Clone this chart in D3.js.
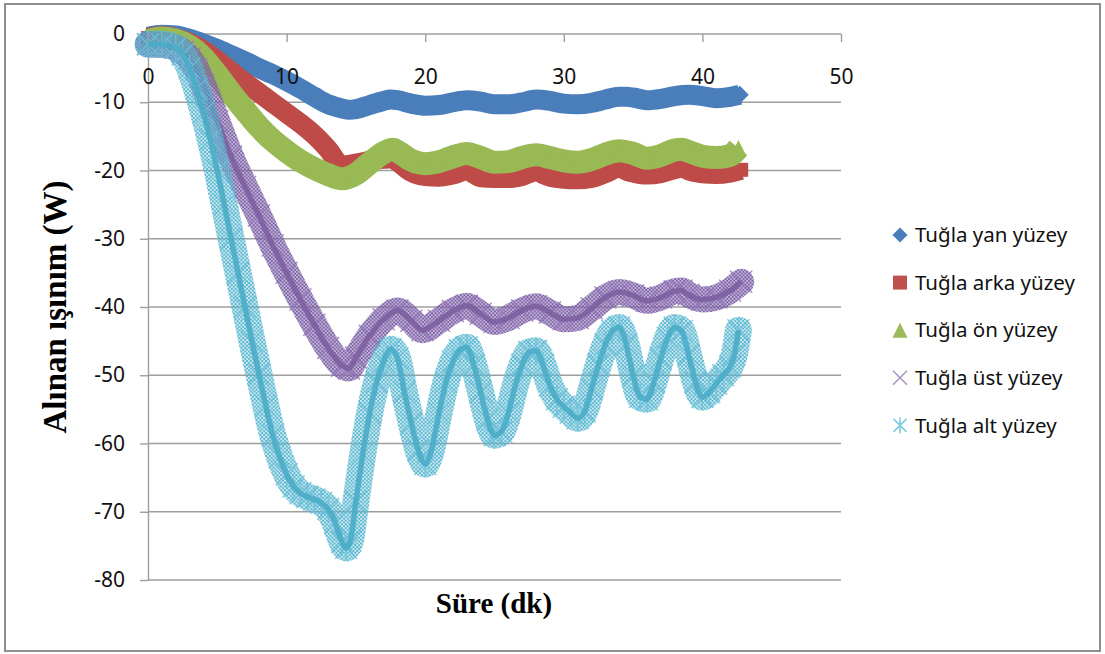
<!DOCTYPE html>
<html>
<head>
<meta charset="utf-8">
<script src="https://cdn.jsdelivr.net/npm/d3@7"></script>
<style>
  html, body { margin: 0; padding: 0; background: #fff; }
  svg { display: block; }
</style>
</head>
<body>
<svg id="chart" width="1105" height="654"></svg>
<script>
// Received radiation (W) over time (dk) for the five brick surfaces

// Tuğla yan yüzey
const tYan = [0,1,2,3,4,5,6,7,8,9,10,11,12,13,14,14.5,15,16,17,17.5,18,19,20,21,22,23,24,25,26,27,28,29,30,31,32,33,34,34.5,35,36,37,38,39,40,41,42,42.7];
const vYan = [-0.4,-0.1,-0.2,-0.7,-1.4,-2.2,-3.1,-4.0,-5.0,-5.9,-6.9,-8.0,-9.2,-10.3,-10.9,-11.1,-11.0,-10.4,-9.8,-9.6,-9.7,-10.2,-10.5,-10.4,-10.0,-9.7,-9.9,-10.3,-10.3,-10.0,-9.6,-9.8,-10.2,-10.3,-10.1,-9.6,-9.2,-9.2,-9.3,-9.7,-9.5,-9.1,-8.9,-9.1,-9.4,-9.2,-8.9];

// Tuğla arka yüzey
const tArka = [0,1,2,3,4,5,6,7,8,9,10,11,12,13,14,15,16,17,17.6,18,19,20,21,22,23,23.6,24,25,26,27,28,28.6,29,30,31,32,33,34,34.6,35,36,37,38,38.6,39,40,41,42,42.8];
const vArka = [-0.6,-0.3,-0.6,-1.3,-2.4,-3.9,-5.5,-7.1,-8.6,-10.1,-11.6,-13.1,-14.8,-16.9,-19.3,-19.0,-18.6,-18.3,-18.2,-18.7,-20.2,-20.8,-20.9,-20.6,-20.0,-20.6,-21.0,-21.1,-21.1,-20.8,-20.1,-20.6,-20.9,-21.2,-21.3,-21.1,-20.4,-19.6,-20.1,-20.3,-20.6,-20.4,-19.8,-19.6,-20.0,-20.4,-20.5,-20.3,-19.9];

// Tuğla ön yüzey
const tOn = [0,1,2,3,4,5,6,7,8,9,10,11,12,13,14,15,16,17,17.7,18,19,20,21,22,23,24,25,26,27,28,29,30,31,32,33,34,35,36,37,38,38.5,39,40,41,42,42.6];
const vOn = [-1.0,-0.6,-0.9,-1.8,-3.5,-6.0,-8.7,-11.2,-13.6,-15.6,-17.2,-18.6,-19.7,-20.6,-21.2,-20.5,-18.9,-17.4,-16.9,-17.2,-18.5,-19.0,-18.7,-18.0,-17.5,-18.1,-18.8,-18.7,-18.1,-17.7,-18.1,-18.6,-18.8,-18.4,-17.6,-17.1,-17.5,-18.2,-17.8,-17.0,-16.9,-17.2,-17.9,-18.1,-17.8,-16.7];

// Tuğla üst yüzey
const tUst = [0,1,2,2.5,3,3.5,4,5,6,7,8,9,10,11,12,13,14,14.5,15,16,17,18,19,19.8,21,22,23,24,25,26,27,28,29,30,31,32,33,34,35,36,37,38,38.5,39,40,41,42,42.8];
const vUst = [-1.5,-1.6,-2.0,-2.6,-3.6,-5.2,-7.5,-12.8,-18.0,-22.4,-26.6,-31.0,-35.0,-38.9,-42.6,-46.0,-48.6,-49.0,-47.4,-44.2,-41.8,-40.5,-42.0,-43.4,-42.0,-40.6,-39.8,-41.0,-42.2,-41.6,-40.5,-39.9,-40.8,-41.8,-41.6,-40.2,-38.6,-37.8,-38.3,-39.1,-38.6,-37.7,-37.6,-38.2,-38.9,-38.6,-37.6,-36.3];

// Tuğla alt yüzey
const tAlt = [0,1,2,2.5,3,3.5,4,4.5,5,5.5,6,6.5,7,7.5,8,8.5,9,9.5,10,10.5,11,11.5,12,12.5,13,13.5,14,14.3,14.6,15,15.5,16,16.5,17,17.5,18,18.5,19,19.5,20,20.5,21,21.5,22,22.5,23,23.5,24,24.5,25,25.5,26,26.5,27,27.5,28,28.5,29,29.5,30,30.5,31,31.5,32,32.5,33,33.5,34,34.5,35,35.5,36,36.5,37,37.5,38,38.5,39,39.5,40,40.5,41,41.5,42,42.3,42.6];
const vAlt = [-1.5,-1.5,-2.0,-3.0,-5.0,-8.0,-11.5,-15.5,-20.0,-25.0,-30.0,-35.0,-40.0,-45.0,-49.8,-54.5,-58.8,-62.0,-64.5,-66.3,-67.3,-67.8,-68.2,-68.7,-69.6,-71.6,-74.4,-75.3,-74.2,-68.5,-61.5,-55.5,-51.0,-48.0,-46.2,-47.5,-52.5,-57.0,-61.0,-63.0,-60.5,-55.5,-51.0,-48.0,-46.3,-45.9,-48.5,-52.5,-56.5,-58.8,-58.3,-55.5,-51.5,-48.5,-46.6,-46.4,-48.5,-51.5,-53.5,-54.6,-55.5,-56.3,-55.3,-52.0,-48.5,-45.5,-43.5,-43.0,-45.5,-50.0,-53.2,-53.5,-51.0,-47.5,-44.5,-43.0,-43.5,-47.0,-51.0,-53.2,-52.5,-51.2,-50.0,-48.7,-47.0,-43.4];

const seriesNames = ["Tuğla yan yüzey", "Tuğla arka yüzey", "Tuğla ön yüzey", "Tuğla üst yüzey", "Tuğla alt yüzey"];
const xTicks = [0, 10, 20, 30, 40, 50];
const yTicks = [0, -10, -20, -30, -40, -50, -60, -70, -80];
const xTitle = "Süre (dk)";
const yTitle = "Alınan ışınım (W)";

const zip = (ts, vs) => ts.map((t, i) => ({ t: t, v: vs[i] }));

const series = [
  { name: seriesNames[0], data: zip(tYan, vYan),   color: "#4A7EBB", marker: "diamond",  band: 20, mk: 9 },
  { name: seriesNames[1], data: zip(tArka, vArka), color: "#BE4B48", marker: "square",   band: 20, mk: 7 },
  { name: seriesNames[2], data: zip(tOn, vOn),     color: "#98B954", marker: "triangle", band: 23, mk: 8 },
  { name: seriesNames[3], data: zip(tUst, vUst),   color: "#7D5FA0", marker: "cross",    band: 26, mk: 11, light: "#9378BA", pattern: "hatchUst" },
  { name: seriesNames[4], data: zip(tAlt, vAlt),   color: "#4BACC6", marker: "star",     band: 27, mk: 11, light: "#6CC0D8", pattern: "hatchAlt" }
];

const svg = d3.select("#chart");
const x = d3.scaleLinear().domain([0, 50]).range([148, 841]);
const y = d3.scaleLinear().domain([-80, 0]).range([580, 34]);

const GRID = "#9E9E9E";
const TICK_FONT = "'Noto Sans', 'Open Sans', sans-serif";

// outer chart frame
svg.append("rect")
  .attr("x", 5).attr("y", 4).attr("width", 1095).attr("height", 647)
  .attr("fill", "#fff").attr("stroke", "#8E8E8E").attr("stroke-width", 2);

// hatch patterns for the cross-marker series
const defs = svg.append("defs");
function hatch(id, color, step, width) {
  const p = defs.append("pattern").attr("id", id)
    .attr("patternUnits", "userSpaceOnUse").attr("width", step).attr("height", step);
  p.append("path")
    .attr("d", `M0,0L${step},${step}M${step},0L0,${step}M-1,${step - 1}L1,${step + 1}M${step - 1},-1L${step + 1},1`)
    .attr("stroke", color).attr("stroke-width", width).attr("fill", "none");
}
hatch("hatchUst", "#7F63A8", 3.6, 1.25);
hatch("hatchAlt", "#55B5CF", 3.8, 1.15);

// horizontal gridlines
svg.append("g").selectAll("line")
  .data(yTicks.filter(d => d !== 0))
  .join("line")
  .attr("x1", x(0)).attr("x2", x(50))
  .attr("y1", d => y(d)).attr("y2", d => y(d))
  .attr("stroke", GRID).attr("stroke-width", 1.4);

// horizontal axis line at zero (its ticks and labels are drawn above the series)
svg.append("line")
  .attr("x1", x(0)).attr("x2", x(50)).attr("y1", y(0)).attr("y2", y(0))
  .attr("stroke", GRID).attr("stroke-width", 1.4);

// y axis
const yAxis = svg.append("g")
  .attr("transform", `translate(${x(0)},0)`)
  .call(d3.axisLeft(y).tickValues(yTicks).tickSize(8).tickSizeOuter(0).tickPadding(15).tickFormat(d => String(d)));

// marker shapes
function markerPath(kind, s) {
  switch (kind) {
    case "diamond":  return `M0,${-s}L${s},0L0,${s}L${-s},0Z`;
    case "square":   return `M${-s},${-s}H${s}V${s}H${-s}Z`;
    case "triangle": return `M0,${-s}L${s},${s}L${-s},${s}Z`;
    case "cross":    return `M${-s},${-s}L${s},${s}M${s},${-s}L${-s},${s}`;
    case "star":     return `M${-s},${-s}L${s},${s}M${s},${-s}L${-s},${s}M0,${-s * 1.2}V${s * 1.2}`;
  }
}

const line = d3.line().x(d => x(d.t)).y(d => y(d.v)).curve(d3.curveMonotoneX);

series.forEach(s => {
  const g = svg.append("g");
  if (s.pattern) {
    g.append("path").datum(s.data).attr("d", line)
      .attr("fill", "none").attr("stroke", `url(#${s.pattern})`)
      .attr("stroke-width", s.band).attr("stroke-linejoin", "round").attr("stroke-linecap", "round");
    g.selectAll("path.mk").data(s.data).join("path").attr("class", "mk")
      .attr("transform", d => `translate(${x(d.t)},${y(d.v)})`)
      .attr("d", markerPath(s.marker, s.mk))
      .attr("fill", "none").attr("stroke", s.light).attr("stroke-width", 1.4).attr("opacity", 0.85);
    g.append("path").datum(s.data).attr("d", line)
      .attr("fill", "none").attr("stroke", s.color).attr("stroke-opacity", 0.9)
      .attr("stroke-width", 5.5).attr("stroke-linejoin", "round");
  } else {
    g.append("path").datum(s.data).attr("d", line)
      .attr("fill", "none").attr("stroke", s.color)
      .attr("stroke-width", s.band).attr("stroke-linejoin", "round").attr("stroke-linecap", "butt");
    g.selectAll("path.mk").data(s.data).join("path").attr("class", "mk")
      .attr("transform", d => `translate(${x(d.t)},${y(d.v)})`)
      .attr("d", markerPath(s.marker, s.mk))
      .attr("fill", s.color).attr("stroke", "none");
  }
});

// x axis ticks and labels, on top of the series
const xAxis = svg.append("g")
  .attr("transform", `translate(0,${y(0)})`)
  .call(d3.axisBottom(x).tickValues(xTicks).tickSize(8).tickSizeOuter(0).tickPadding(27).tickFormat(d => String(d)));
xAxis.select(".domain").remove();

[xAxis, yAxis].forEach(g => {
  g.select(".domain").attr("stroke", GRID).attr("stroke-width", 1.4);
  g.selectAll(".tick line").attr("stroke", GRID).attr("stroke-width", 1.4);
  g.selectAll(".tick text").attr("fill", "#111").style("font-family", TICK_FONT).style("font-size", "21px");
});

// legend
const legend = svg.append("g");
const legendMarkers = [
  { kind: "diamond",  fill: "#4A7EBB", stroke: "none",    size: 7.5 },
  { kind: "square",   fill: "#C0504D", stroke: "none",    size: 7 },
  { kind: "triangle", fill: "#9BBB59", stroke: "none",    size: 7.5 },
  { kind: "cross",    fill: "none",    stroke: "#A896C8", size: 7 },
  { kind: "star",     fill: "none",    stroke: "#7FCCE0", size: 6.5 }
];
series.forEach((s, i) => {
  const row = legend.append("g").attr("transform", `translate(900,${235 + i * 47.6})`);
  const m = legendMarkers[i];
  row.append("path").attr("d", markerPath(m.kind, m.size))
    .attr("fill", m.fill).attr("stroke", m.stroke).attr("stroke-width", 1.6);
  row.append("text").attr("x", 15).attr("dy", "0.35em")
    .style("font-family", TICK_FONT).style("font-size", "20.5px").attr("fill", "#111")
    .text(s.name);
});

// axis titles
svg.append("text")
  .attr("x", 494).attr("y", 613).attr("text-anchor", "middle")
  .style("font-family", "'Liberation Serif', 'Times New Roman', serif")
  .style("font-weight", "bold").style("font-size", "29px")
  .text(xTitle);

svg.append("text")
  .attr("transform", "translate(66,307) rotate(-90)")
  .attr("text-anchor", "middle")
  .style("font-family", "'Liberation Serif', 'Times New Roman', serif")
  .style("font-weight", "bold").style("font-size", "33px")
  .text(yTitle);
</script>
</body>
</html>
